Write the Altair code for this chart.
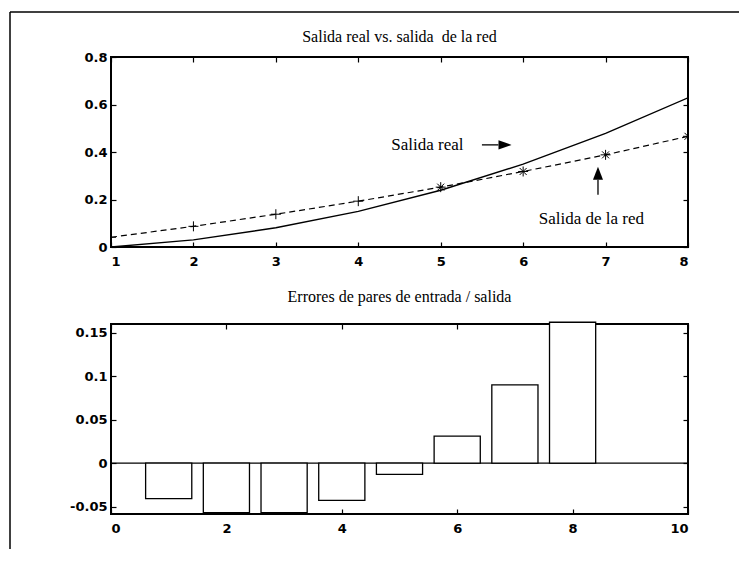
import altair as alt
import pandas as pd

# ---------------- data ----------------
x_vals = [1, 2, 3, 4, 5, 6, 7, 8]
salida_real = [0.0, 0.030, 0.081, 0.150, 0.239, 0.349, 0.478, 0.628]
salida_red = [0.041, 0.087, 0.138, 0.193, 0.252, 0.318, 0.388, 0.466]
marcadores = ["+", "+", "+", "+", "*", "*", "*", "*"]
errores = [-0.041, -0.057, -0.057, -0.043, -0.013, 0.031, 0.090, 0.162]

top_x_ticks = [1, 2, 3, 4, 5, 6, 7, 8]
top_y_ticks = [0, 0.2, 0.4, 0.6, 0.8]
bot_x_ticks = [0, 2, 4, 6, 8, 10]
bot_y_ticks = [-0.05, 0, 0.05, 0.1, 0.15]
top_x_domain = [1, 8]
top_y_domain = [0, 0.8]
bot_x_domain = [0, 10]
bot_y_domain = [-0.0586, 0.16]

titulo_sup = "Salida real vs. salida \u00a0de la red"
titulo_inf = "Errores de pares de entrada / salida"

etiquetas = ["Salida real", "Salida de la red"]
etiqueta_x = [4.40, 6.19]
etiqueta_y = [0.408, 0.098]

flecha_x = [5.50, 6.908]
flecha_x2 = [5.70, 6.908]
flecha_y = [0.430, 0.220]
flecha_y2 = [0.430, 0.283]
punta_x = [5.78, 6.908]
punta_y = [0.430, 0.311]
punta_dir = ["derecha", "arriba"]

ancho_barra = 0.8

# ---------------- tables ----------------
df_top = pd.DataFrame({"x": x_vals, "real": salida_real, "red": salida_red, "m": marcadores})
df_bot = pd.DataFrame({"x": x_vals, "err": errores})
df_lab = pd.DataFrame({"x": etiqueta_x, "y": etiqueta_y, "t": etiquetas})
df_arr = pd.DataFrame({"x": flecha_x, "x2": flecha_x2, "y": flecha_y, "y2": flecha_y2})
df_head = pd.DataFrame({"x": punta_x, "y": punta_y, "d": punta_dir})
df_one = pd.DataFrame({"z": [0]})

PLUS = "M-1,0L1,0M0,-1L0,1"
STAR = "M-1,0L1,0M0,-1L0,1M-0.7,-0.7L0.7,0.7M-0.7,0.7L0.7,-0.7"
HEAD_R = "M-1,-0.72L1,0L-1,0.72Z"
HEAD_U = "M-0.77,1L0,-1L0.77,1Z"

W, H = 577, 190


def sc(dom):
    return alt.Scale(domain=dom, nice=False, zero=False)


def main_axis(orient, values, pad):
    return alt.Axis(orient=orient, values=values, offset=-5, tickSize=5, domain=False,
                    grid=False, title=None, labelPadding=pad, labelExpr="'' + datum.value")


def dummy_axis(orient, values):
    return alt.Axis(orient=orient, values=values, offset=-5, tickSize=5, domain=False,
                    grid=False, title=None, labels=False)


# ---------------- top chart ----------------
xt = sc(top_x_domain)
yt = sc(top_y_domain)
base_t = alt.Chart(df_top)

real_line = base_t.mark_line(color="black", strokeWidth=1.4, clip=True).encode(
    x=alt.X("x:Q", scale=xt, axis=main_axis("bottom", top_x_ticks, 8)),
    y=alt.Y("real:Q", scale=yt, axis=main_axis("left", top_y_ticks, 4)),
)
dummy_t = base_t.mark_point(opacity=0).encode(
    x=alt.X("x:Q", scale=xt, axis=dummy_axis("top", top_x_ticks)),
    y=alt.Y("red:Q", scale=yt, axis=dummy_axis("right", top_y_ticks)),
)
red_line = base_t.mark_line(color="black", strokeWidth=1.2, strokeDash=[6, 4], clip=True).encode(
    x=alt.X("x:Q", scale=xt, axis=None),
    y=alt.Y("red:Q", scale=yt, axis=None),
)
red_pts = base_t.mark_point(filled=False, color="black", size=100, strokeWidth=1, opacity=1, clip=True).encode(
    x=alt.X("x:Q", scale=xt, axis=None),
    y=alt.Y("red:Q", scale=yt, axis=None),
    shape=alt.Shape("m:N", scale=alt.Scale(domain=["+", "*"], range=[PLUS, STAR]), legend=None),
)
labels = alt.Chart(df_lab).mark_text(font="Liberation Serif", fontSize=17, align="left",
                                      baseline="alphabetic", color="black").encode(
    x=alt.X("x:Q", scale=xt, axis=None),
    y=alt.Y("y:Q", scale=yt, axis=None),
    text="t:N",
)
arrows = alt.Chart(df_arr).mark_rule(color="black", strokeWidth=1.3).encode(
    x=alt.X("x:Q", scale=xt, axis=None), x2="x2:Q",
    y=alt.Y("y:Q", scale=yt, axis=None), y2="y2:Q",
)
heads = alt.Chart(df_head).mark_point(filled=True, color="black", size=169, strokeWidth=0, opacity=1).encode(
    x=alt.X("x:Q", scale=xt, axis=None),
    y=alt.Y("y:Q", scale=yt, axis=None),
    shape=alt.Shape("d:N", scale=alt.Scale(domain=["derecha", "arriba"], range=[HEAD_R, HEAD_U]), legend=None),
)
# outer figure frame (left and top edges)
frame_h = alt.Chart(df_one).mark_rule(color="black", strokeWidth=1.5).encode(
    x=alt.value(-101), x2=alt.value(628), y=alt.value(-45))
frame_v = alt.Chart(df_one).mark_rule(color="black", strokeWidth=1.5).encode(
    x=alt.value(-101), y=alt.value(-45), y2=alt.value(492))

top = alt.layer(real_line, dummy_t, red_line, red_pts, labels, arrows, heads, frame_h, frame_v).resolve_axis(
    x="independent", y="independent").resolve_scale(shape="independent").properties(
    width=W, height=H, title=alt.TitleParams(titulo_sup, offset=-34))

# ---------------- bottom chart ----------------
xb = sc(bot_x_domain)
yb = sc(bot_y_domain)
half = ancho_barra / 2

zero_line = alt.Chart(df_one).mark_rule(color="black", strokeWidth=1.3).encode(
    y=alt.Y("z:Q", scale=yb, axis=None))
bars = alt.Chart(df_bot).transform_calculate(
    x0=f"datum.x - {half}", x1=f"datum.x + {half}", z="0").mark_rect(
    fill="white", stroke="black", strokeWidth=1.3).encode(
    x=alt.X("x0:Q", scale=xb, axis=main_axis("bottom", bot_x_ticks, 8)),
    x2="x1:Q",
    y=alt.Y("err:Q", scale=yb, axis=main_axis("left", bot_y_ticks, 4)),
    y2="z:Q",
)
dummy_b = alt.Chart(df_bot).mark_point(opacity=0).encode(
    x=alt.X("x:Q", scale=xb, axis=dummy_axis("top", bot_x_ticks)),
    y=alt.Y("err:Q", scale=yb, axis=dummy_axis("right", bot_y_ticks)),
)
bottom = alt.layer(zero_line, bars, dummy_b).resolve_axis(x="independent", y="independent").properties(
    width=W, height=H, title=alt.TitleParams(titulo_inf, offset=15))

chart = alt.vconcat(top, bottom, spacing=77, bounds="flush").properties(
    padding={"left": 0, "top": 2, "right": 0, "bottom": 0}
).configure_view(stroke="black", strokeWidth=2).configure_axis(
    labelFont="DejaVu Sans", labelFontSize=13, labelFontWeight="bold", labelColor="black",
    tickColor="black", tickWidth=1.2
).configure_title(
    font="Liberation Serif", fontSize=16, fontWeight="normal", color="black",
    anchor="middle", frame="group", baseline="bottom"
)

chart.save("out.html", embed_options={"renderer": "svg", "actions": False})
